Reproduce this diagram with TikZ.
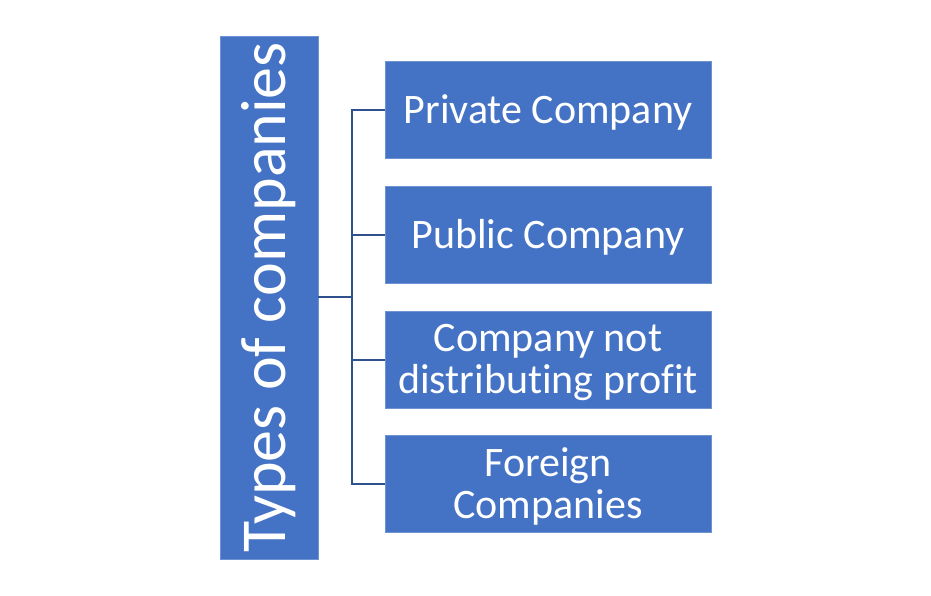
\documentclass[tikz,border=0pt]{standalone}
\usepackage{fontspec}
\setmainfont{Carlito}[RawFeature={-liga}]
\definecolor{boxblue}{HTML}{4472C4}
\definecolor{boxedge}{HTML}{6F92D2}
\definecolor{lineblue}{HTML}{2F528F}
\begin{document}
\begin{tikzpicture}[x=1pt,y=-1pt,
  box/.style={fill=boxblue, draw=boxedge, line width=0.8pt, inner sep=0pt,
    minimum width=326pt, minimum height=97pt},
  boxtext/.style={text=white, inner sep=0pt, align=center, yshift=-2.5pt,
    font=\fontsize{42}{42}\selectfont},
  link/.style={draw=lineblue, line width=1.5pt}]
\useasboundingbox (0,0) rectangle (931,595);
\node[box, minimum width=98pt, minimum height=523pt] (root) at (269,297.5) {};
\node[rotate=90, text=white, inner sep=0pt, font=\fontsize{64}{66}\selectfont] (roottext) at (root.center) {Types of companies};
\node[box] (b1) at (548,110) {};
\node[box] (b2) at (548,235) {};
\node[box] (b3) at (548,360) {};
\node[box] (b4) at (548,484) {};
\node[boxtext] (t1) at (b1.center) {Private Company};
\node[boxtext] (t2) at (b2.center) {Public Company};
\node[boxtext] (t3) at (b3.center) {Company not\\distributing profit};
\node[boxtext] (t4) at (b4.center) {Foreign\\Companies};
\coordinate (j) at (352,297);
\draw[link] (root.east |- j) -- (j);
\draw[link] (j) |- (b1.west);
\draw[link] (j) |- (b2.west);
\draw[link] (j) |- (b3.west);
\draw[link] (j) |- (b4.west);
\end{tikzpicture}
\end{document}
